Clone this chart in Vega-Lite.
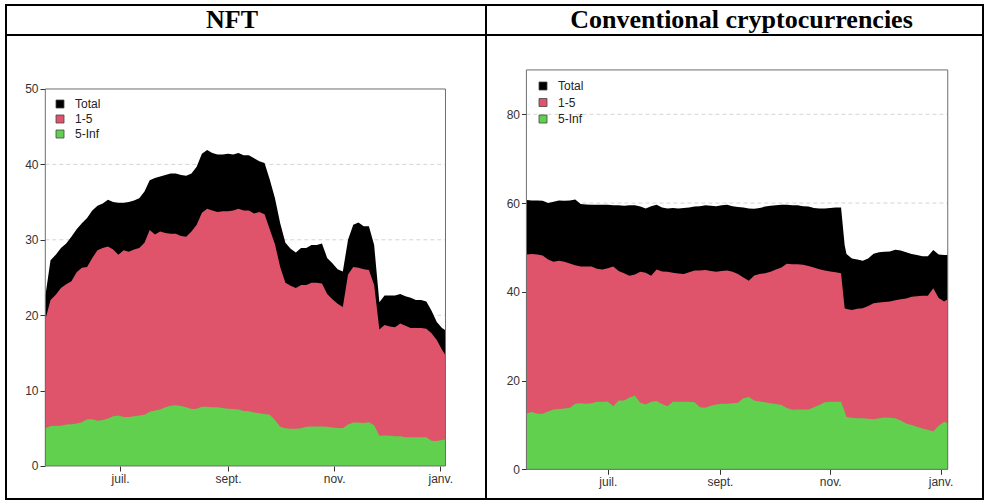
{
  "$schema": "https://vega.github.io/schema/vega-lite/v6.json",
  "padding": {"left": 5, "top": 4, "right": 0, "bottom": 0},
  "background": "white",
  "config": {
    "view": {"stroke": "black", "strokeWidth": 2},
    "axis": {"labelFont": "Liberation Sans Narrow, Liberation Sans", "labelFontSize": 12, "labelColor": "#333", "tickColor": "#333", "tickSize": 5, "domain": false, "grid": false, "zindex": 1, "labelPadding": 2, "labelFlush": false, "labelOverlap": false},
    "legend": {"orient": "none", "title": null, "symbolType": "square", "symbolSize": 64, "labelFont": "Liberation Sans Narrow, Liberation Sans", "labelFontSize": 12, "labelColor": "#222", "padding": 0, "labelOffset": 9, "symbolStrokeColor": "#444", "symbolStrokeWidth": 0.8, "symbolOpacity": 1}
  },
  "datasets": {
    "nft": [
      {"date":"2021-05-19","Total":22.5,"r1":19.4,"r5":5.0},
      {"date":"2021-05-22","Total":27.3,"r1":22.0,"r5":5.3},
      {"date":"2021-05-25","Total":28.0,"r1":22.7,"r5":5.35},
      {"date":"2021-05-28","Total":28.9,"r1":23.6,"r5":5.35},
      {"date":"2021-05-31","Total":29.5,"r1":24.1,"r5":5.5},
      {"date":"2021-06-03","Total":30.4,"r1":24.5,"r5":5.55},
      {"date":"2021-06-06","Total":31.4,"r1":25.7,"r5":5.65},
      {"date":"2021-06-09","Total":32.2,"r1":26.3,"r5":5.8},
      {"date":"2021-06-12","Total":32.9,"r1":26.4,"r5":6.2},
      {"date":"2021-06-15","Total":33.9,"r1":27.6,"r5":6.2},
      {"date":"2021-06-18","Total":34.5,"r1":28.6,"r5":6.0},
      {"date":"2021-06-21","Total":34.8,"r1":28.9,"r5":6.1},
      {"date":"2021-06-24","Total":35.3,"r1":29.1,"r5":6.3},
      {"date":"2021-06-27","Total":35.0,"r1":28.7,"r5":6.6},
      {"date":"2021-06-30","Total":34.9,"r1":28.0,"r5":6.7},
      {"date":"2021-07-03","Total":34.9,"r1":28.6,"r5":6.5},
      {"date":"2021-07-06","Total":35.0,"r1":28.4,"r5":6.5},
      {"date":"2021-07-09","Total":35.2,"r1":28.7,"r5":6.6},
      {"date":"2021-07-12","Total":35.5,"r1":28.9,"r5":6.7},
      {"date":"2021-07-15","Total":36.4,"r1":29.6,"r5":6.8},
      {"date":"2021-07-18","Total":37.9,"r1":31.3,"r5":7.2},
      {"date":"2021-07-21","Total":38.2,"r1":30.7,"r5":7.35},
      {"date":"2021-07-24","Total":38.4,"r1":31.1,"r5":7.5},
      {"date":"2021-07-27","Total":38.6,"r1":30.9,"r5":7.8},
      {"date":"2021-07-30","Total":38.8,"r1":30.8,"r5":8.0},
      {"date":"2021-08-02","Total":38.8,"r1":30.8,"r5":8.05},
      {"date":"2021-08-05","Total":38.6,"r1":30.5,"r5":7.95},
      {"date":"2021-08-08","Total":38.5,"r1":30.4,"r5":7.8},
      {"date":"2021-08-11","Total":38.8,"r1":31.1,"r5":7.55},
      {"date":"2021-08-14","Total":39.7,"r1":32.0,"r5":7.6},
      {"date":"2021-08-17","Total":41.4,"r1":33.6,"r5":7.85},
      {"date":"2021-08-20","Total":41.9,"r1":34.1,"r5":7.85},
      {"date":"2021-08-23","Total":41.5,"r1":33.9,"r5":7.8},
      {"date":"2021-08-26","Total":41.3,"r1":33.7,"r5":7.8},
      {"date":"2021-08-29","Total":41.3,"r1":33.8,"r5":7.7},
      {"date":"2021-09-01","Total":41.4,"r1":33.8,"r5":7.6},
      {"date":"2021-09-04","Total":41.3,"r1":33.9,"r5":7.55},
      {"date":"2021-09-07","Total":41.5,"r1":34.1,"r5":7.5},
      {"date":"2021-09-10","Total":41.2,"r1":33.9,"r5":7.3},
      {"date":"2021-09-13","Total":41.2,"r1":33.9,"r5":7.25},
      {"date":"2021-09-16","Total":40.8,"r1":33.5,"r5":7.1},
      {"date":"2021-09-19","Total":40.4,"r1":33.7,"r5":7.0},
      {"date":"2021-09-22","Total":40.2,"r1":33.4,"r5":6.9},
      {"date":"2021-09-25","Total":38.0,"r1":31.4,"r5":6.8},
      {"date":"2021-09-28","Total":35.5,"r1":29.4,"r5":6.1},
      {"date":"2021-10-01","Total":32.2,"r1":26.4,"r5":5.2},
      {"date":"2021-10-04","Total":29.6,"r1":24.3,"r5":5.0},
      {"date":"2021-10-07","Total":28.8,"r1":23.9,"r5":4.95},
      {"date":"2021-10-10","Total":28.3,"r1":23.6,"r5":4.95},
      {"date":"2021-10-13","Total":28.9,"r1":24.0,"r5":5.0},
      {"date":"2021-10-16","Total":28.9,"r1":24.0,"r5":5.2},
      {"date":"2021-10-19","Total":29.3,"r1":24.3,"r5":5.25},
      {"date":"2021-10-22","Total":29.3,"r1":24.3,"r5":5.25},
      {"date":"2021-10-25","Total":29.5,"r1":24.2,"r5":5.25},
      {"date":"2021-10-28","Total":27.6,"r1":22.8,"r5":5.2},
      {"date":"2021-10-31","Total":26.9,"r1":22.1,"r5":5.1},
      {"date":"2021-11-03","Total":26.1,"r1":21.5,"r5":5.05},
      {"date":"2021-11-06","Total":25.8,"r1":21.1,"r5":5.0},
      {"date":"2021-11-09","Total":30.0,"r1":25.4,"r5":5.5},
      {"date":"2021-11-12","Total":32.0,"r1":26.4,"r5":5.75},
      {"date":"2021-11-15","Total":32.3,"r1":26.3,"r5":5.75},
      {"date":"2021-11-18","Total":31.8,"r1":26.1,"r5":5.7},
      {"date":"2021-11-21","Total":31.8,"r1":26.0,"r5":5.8},
      {"date":"2021-11-24","Total":29.3,"r1":24.0,"r5":5.4},
      {"date":"2021-11-27","Total":21.7,"r1":18.1,"r5":4.0},
      {"date":"2021-11-30","Total":22.6,"r1":18.7,"r5":4.05},
      {"date":"2021-12-03","Total":22.6,"r1":18.5,"r5":4.0},
      {"date":"2021-12-06","Total":22.6,"r1":18.4,"r5":3.95},
      {"date":"2021-12-09","Total":22.8,"r1":18.9,"r5":3.95},
      {"date":"2021-12-12","Total":22.5,"r1":18.6,"r5":3.8},
      {"date":"2021-12-15","Total":22.3,"r1":18.3,"r5":3.8},
      {"date":"2021-12-18","Total":22.0,"r1":18.3,"r5":3.8},
      {"date":"2021-12-21","Total":22.0,"r1":18.3,"r5":3.8},
      {"date":"2021-12-24","Total":21.8,"r1":18.2,"r5":3.8},
      {"date":"2021-12-27","Total":20.6,"r1":17.6,"r5":3.35},
      {"date":"2021-12-30","Total":19.1,"r1":16.7,"r5":3.3},
      {"date":"2022-01-02","Total":18.3,"r1":15.4,"r5":3.45},
      {"date":"2022-01-04","Total":18.0,"r1":14.7,"r5":3.5}
    ],
    "crypto": [
      {"date":"2021-05-17","Total":60.7,"r1":48.4,"r5":12.6},
      {"date":"2021-05-20","Total":60.6,"r1":48.5,"r5":12.9},
      {"date":"2021-05-23","Total":60.6,"r1":48.4,"r5":12.5},
      {"date":"2021-05-26","Total":60.5,"r1":48.2,"r5":12.5},
      {"date":"2021-05-29","Total":60.0,"r1":47.3,"r5":13.0},
      {"date":"2021-06-01","Total":60.3,"r1":46.8,"r5":13.5},
      {"date":"2021-06-04","Total":60.6,"r1":47.0,"r5":13.6},
      {"date":"2021-06-07","Total":60.5,"r1":46.8,"r5":13.7},
      {"date":"2021-06-10","Total":60.6,"r1":46.4,"r5":13.9},
      {"date":"2021-06-13","Total":60.8,"r1":46.0,"r5":14.8},
      {"date":"2021-06-16","Total":59.8,"r1":45.7,"r5":14.9},
      {"date":"2021-06-19","Total":59.7,"r1":45.7,"r5":14.8},
      {"date":"2021-06-22","Total":59.6,"r1":45.7,"r5":14.9},
      {"date":"2021-06-25","Total":59.6,"r1":45.2,"r5":15.2},
      {"date":"2021-06-28","Total":59.6,"r1":45.0,"r5":15.2},
      {"date":"2021-07-01","Total":59.6,"r1":45.3,"r5":15.3},
      {"date":"2021-07-04","Total":59.5,"r1":45.7,"r5":14.2},
      {"date":"2021-07-07","Total":59.5,"r1":44.7,"r5":15.5},
      {"date":"2021-07-10","Total":59.4,"r1":44.2,"r5":15.5},
      {"date":"2021-07-13","Total":59.5,"r1":43.6,"r5":16.2},
      {"date":"2021-07-16","Total":59.5,"r1":43.9,"r5":16.6},
      {"date":"2021-07-19","Total":59.2,"r1":44.5,"r5":15.0},
      {"date":"2021-07-22","Total":58.8,"r1":44.3,"r5":14.6},
      {"date":"2021-07-25","Total":59.3,"r1":43.6,"r5":15.2},
      {"date":"2021-07-28","Total":59.6,"r1":45.0,"r5":15.4},
      {"date":"2021-07-31","Total":59.0,"r1":44.6,"r5":14.7},
      {"date":"2021-08-03","Total":58.8,"r1":44.5,"r5":14.2},
      {"date":"2021-08-06","Total":58.9,"r1":44.3,"r5":15.2},
      {"date":"2021-08-09","Total":58.8,"r1":44.1,"r5":15.2},
      {"date":"2021-08-12","Total":58.9,"r1":44.0,"r5":15.2},
      {"date":"2021-08-15","Total":59.0,"r1":44.4,"r5":15.2},
      {"date":"2021-08-18","Total":59.2,"r1":44.8,"r5":15.1},
      {"date":"2021-08-21","Total":59.3,"r1":44.8,"r5":14.0},
      {"date":"2021-08-24","Total":59.5,"r1":44.9,"r5":13.9},
      {"date":"2021-08-27","Total":59.4,"r1":44.7,"r5":14.3},
      {"date":"2021-08-30","Total":59.3,"r1":44.5,"r5":14.6},
      {"date":"2021-09-02","Total":59.5,"r1":44.7,"r5":14.8},
      {"date":"2021-09-05","Total":59.6,"r1":44.8,"r5":14.8},
      {"date":"2021-09-08","Total":59.3,"r1":44.5,"r5":14.9},
      {"date":"2021-09-11","Total":59.1,"r1":44.0,"r5":15.0},
      {"date":"2021-09-14","Total":59.0,"r1":43.2,"r5":16.0},
      {"date":"2021-09-17","Total":58.8,"r1":42.5,"r5":16.3},
      {"date":"2021-09-20","Total":58.7,"r1":43.7,"r5":15.5},
      {"date":"2021-09-23","Total":58.9,"r1":44.0,"r5":15.3},
      {"date":"2021-09-26","Total":59.2,"r1":44.2,"r5":15.1},
      {"date":"2021-09-29","Total":59.4,"r1":44.5,"r5":14.9},
      {"date":"2021-10-02","Total":59.5,"r1":45.0,"r5":14.7},
      {"date":"2021-10-05","Total":59.6,"r1":45.5,"r5":14.5},
      {"date":"2021-10-08","Total":59.6,"r1":46.3,"r5":13.8},
      {"date":"2021-10-11","Total":59.5,"r1":46.2,"r5":13.4},
      {"date":"2021-10-14","Total":59.5,"r1":46.2,"r5":13.5},
      {"date":"2021-10-17","Total":59.3,"r1":46.1,"r5":13.5},
      {"date":"2021-10-20","Total":59.2,"r1":45.8,"r5":13.5},
      {"date":"2021-10-23","Total":58.9,"r1":45.5,"r5":14.0},
      {"date":"2021-10-26","Total":58.8,"r1":45.1,"r5":14.5},
      {"date":"2021-10-29","Total":58.8,"r1":44.8,"r5":15.1},
      {"date":"2021-11-01","Total":58.9,"r1":44.6,"r5":15.2},
      {"date":"2021-11-04","Total":59.0,"r1":44.4,"r5":15.2},
      {"date":"2021-11-07","Total":59.0,"r1":44.2,"r5":15.2},
      {"date":"2021-11-09","Total":50.5,"r1":36.3,"r5":13.0},
      {"date":"2021-11-10","Total":48.5,"r1":36.1,"r5":11.8},
      {"date":"2021-11-13","Total":47.5,"r1":35.9,"r5":11.6},
      {"date":"2021-11-16","Total":47.3,"r1":36.2,"r5":11.5},
      {"date":"2021-11-19","Total":47.0,"r1":36.3,"r5":11.5},
      {"date":"2021-11-22","Total":47.5,"r1":36.8,"r5":11.4},
      {"date":"2021-11-25","Total":48.6,"r1":37.4,"r5":11.3},
      {"date":"2021-11-28","Total":48.9,"r1":37.6,"r5":11.5},
      {"date":"2021-12-01","Total":49.0,"r1":37.7,"r5":11.7},
      {"date":"2021-12-04","Total":49.1,"r1":37.8,"r5":11.6},
      {"date":"2021-12-07","Total":49.5,"r1":38.1,"r5":11.5},
      {"date":"2021-12-10","Total":49.3,"r1":38.3,"r5":11.0},
      {"date":"2021-12-13","Total":48.9,"r1":38.5,"r5":10.3},
      {"date":"2021-12-16","Total":48.5,"r1":38.9,"r5":10.0},
      {"date":"2021-12-19","Total":48.3,"r1":39.0,"r5":9.6},
      {"date":"2021-12-22","Total":48.0,"r1":39.1,"r5":9.2},
      {"date":"2021-12-25","Total":48.0,"r1":39.1,"r5":8.9},
      {"date":"2021-12-28","Total":49.4,"r1":40.8,"r5":8.5},
      {"date":"2021-12-31","Total":48.4,"r1":38.6,"r5":9.8},
      {"date":"2022-01-03","Total":48.3,"r1":37.8,"r5":10.7},
      {"date":"2022-01-05","Total":48.3,"r1":38.3,"r5":10.4}
    ]
  },
  "columns": 2,
  "spacing": 0,
  "bounds": "flush",
  "resolve": {"scale": {"color": "independent"}, "legend": {"color": "independent"}},
  "concat": [
    {
      "width": 480, "height": 30,
      "data": {"values": [{"label": "NFT"}]},
      "mark": {"type": "text", "font": "Liberation Serif", "fontSize": 26, "fontWeight": "bold", "color": "black", "baseline": "alphabetic", "dx": -14, "dy": 8},
      "encoding": {
        "text": {"field": "label"},
        "x": {"datum": 0, "type": "quantitative", "axis": null, "scale": {"domain": [-1, 1]}},
        "y": {"datum": 0, "type": "quantitative", "axis": null, "scale": {"domain": [-1, 1]}}
      }
    },
    {
      "width": 497, "height": 30,
      "data": {"values": [{"label": "Conventional cryptocurrencies"}]},
      "mark": {"type": "text", "font": "Liberation Serif", "fontSize": 26, "fontWeight": "bold", "color": "black", "baseline": "alphabetic", "dx": 7, "dy": 8},
      "encoding": {
        "text": {"field": "label"},
        "x": {"datum": 0, "type": "quantitative", "axis": null, "scale": {"domain": [-1, 1]}},
        "y": {"datum": 0, "type": "quantitative", "axis": null, "scale": {"domain": [-1, 1]}}
      }
    },
    {
      "width": 480, "height": 464,
      "data": {"name": "nft"},
      "layer": [
        {
          "data": {"values": [{"g": 10}, {"g": 20}, {"g": 30}, {"g": 40}]},
          "mark": {"type": "rule", "stroke": "#d4d4d4", "strokeDash": [4, 3], "strokeWidth": 1},
          "encoding": {
            "x": {"datum": {"year": 2021, "month": 5, "date": 19, "utc": true}, "type": "temporal"},
            "x2": {"datum": {"year": 2022, "month": 1, "date": 4, "utc": true}},
            "y": {"field": "g", "type": "quantitative", "title": null,
                  "scale": {"domain": [-4.38, 57.16], "nice": false, "zero": false},
                  "axis": {"values": [0, 10, 20, 30, 40, 50], "offset": -39}}
          }
        },
        {
          "mark": {"type": "area"},
          "encoding": {
            "x": {"field": "date", "type": "temporal", "title": null,
                  "scale": {"domain": [{"year": 2021, "month": 4, "date": 26, "hours": 9, "minutes": 50, "utc": true}, {"year": 2022, "month": 1, "date": 27, "hours": 7, "utc": true}], "nice": false},
                  "axis": {"values": [{"year": 2021, "month": 7, "date": 1, "utc": true}, {"year": 2021, "month": 9, "date": 1, "utc": true}, {"year": 2021, "month": 11, "date": 1, "utc": true}, {"year": 2022, "month": 1, "date": 1, "utc": true}],
                           "labelExpr": "['janv.','févr.','mars','avr.','mai','juin','juil.','août','sept.','oct.','nov.','déc.'][utcmonth(datum.value)]",
                           "offset": -33}},
            "y": {"field": "Total", "type": "quantitative", "title": null},
            "y2": {"datum": 0},
            "color": {"datum": "Total", "type": "nominal",
                      "scale": {"domain": ["Total", "1-5", "5-Inf"], "range": ["#000000", "#DF536B", "#61D04F"]},
                      "legend": {"legendX": 48, "legendY": 63, "rowPadding": 3}}
          }
        },
        {
          "mark": {"type": "area"},
          "encoding": {
            "x": {"field": "date", "type": "temporal", "title": null},
            "y": {"field": "r1", "type": "quantitative", "title": null},
            "y2": {"datum": 0},
            "color": {"datum": "1-5", "type": "nominal"}
          }
        },
        {
          "mark": {"type": "area"},
          "encoding": {
            "x": {"field": "date", "type": "temporal", "title": null},
            "y": {"field": "r5", "type": "quantitative", "title": null},
            "y2": {"datum": 0},
            "color": {"datum": "5-Inf", "type": "nominal"}
          }
        },
        {
          "mark": {"type": "rect", "filled": false, "stroke": "#6e6e6e", "strokeWidth": 1},
          "encoding": {
            "x": {"aggregate": "min", "field": "date", "type": "temporal", "title": null},
            "x2": {"aggregate": "max", "field": "date"},
            "y": {"datum": 0, "type": "quantitative"},
            "y2": {"datum": 50}
          }
        }
      ]
    },
    {
      "width": 497, "height": 464,
      "data": {"name": "crypto"},
      "layer": [
        {
          "data": {"values": [{"g": 20}, {"g": 40}, {"g": 60}, {"g": 80}]},
          "mark": {"type": "rule", "stroke": "#d4d4d4", "strokeDash": [4, 3], "strokeWidth": 1},
          "encoding": {
            "x": {"datum": {"year": 2021, "month": 5, "date": 17, "utc": true}, "type": "temporal"},
            "x2": {"datum": {"year": 2022, "month": 1, "date": 5, "utc": true}},
            "y": {"field": "g", "type": "quantitative", "title": null,
                  "scale": {"domain": [-6.69, 97.87], "nice": false, "zero": false},
                  "axis": {"values": [0, 20, 40, 60, 80], "offset": -40.5}}
          }
        },
        {
          "mark": {"type": "area"},
          "encoding": {
            "x": {"field": "date", "type": "temporal", "title": null,
                  "scale": {"domain": [{"year": 2021, "month": 4, "date": 24, "hours": 15, "minutes": 36, "utc": true}, {"year": 2022, "month": 1, "date": 24, "hours": 12, "utc": true}], "nice": false},
                  "axis": {"values": [{"year": 2021, "month": 7, "date": 1, "utc": true}, {"year": 2021, "month": 9, "date": 1, "utc": true}, {"year": 2021, "month": 11, "date": 1, "utc": true}, {"year": 2022, "month": 1, "date": 1, "utc": true}],
                           "labelExpr": "['janv.','févr.','mars','avr.','mai','juin','juil.','août','sept.','oct.','nov.','déc.'][utcmonth(datum.value)]",
                           "offset": -29.7}},
            "y": {"field": "Total", "type": "quantitative", "title": null},
            "y2": {"datum": 0},
            "color": {"datum": "Total", "type": "nominal",
                      "scale": {"domain": ["Total", "1-5", "5-Inf"], "range": ["#000000", "#DF536B", "#61D04F"]},
                      "legend": {"legendX": 51, "legendY": 45, "rowPadding": 4.5}}
          }
        },
        {
          "mark": {"type": "area"},
          "encoding": {
            "x": {"field": "date", "type": "temporal", "title": null},
            "y": {"field": "r1", "type": "quantitative", "title": null},
            "y2": {"datum": 0},
            "color": {"datum": "1-5", "type": "nominal"}
          }
        },
        {
          "mark": {"type": "area"},
          "encoding": {
            "x": {"field": "date", "type": "temporal", "title": null},
            "y": {"field": "r5", "type": "quantitative", "title": null},
            "y2": {"datum": 0},
            "color": {"datum": "5-Inf", "type": "nominal"}
          }
        },
        {
          "mark": {"type": "rect", "filled": false, "stroke": "#6e6e6e", "strokeWidth": 1},
          "encoding": {
            "x": {"aggregate": "min", "field": "date", "type": "temporal", "title": null},
            "x2": {"aggregate": "max", "field": "date"},
            "y": {"datum": 0, "type": "quantitative"},
            "y2": {"datum": 90}
          }
        }
      ]
    }
  ]
}
